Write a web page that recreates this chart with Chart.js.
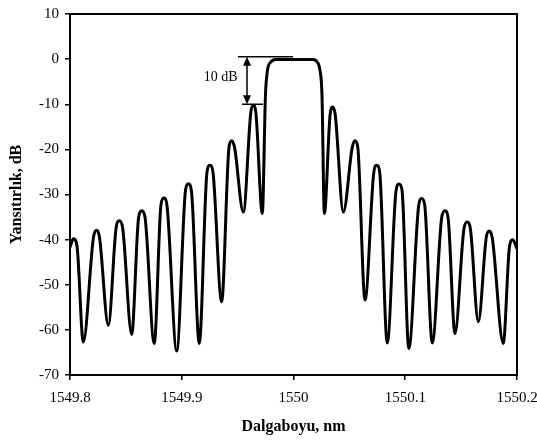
<!DOCTYPE html>
<html>
<head>
<meta charset="utf-8">
<script src="https://cdn.jsdelivr.net/npm/chart.js@4.4.1/dist/chart.umd.min.js"></script>
<style>
  body { margin: 0; background: #fff; }
  canvas { display: block; }
</style>
</head>
<body>
<canvas id="spectrumChart" width="537" height="441"></canvas>
<script>
// Reflection spectrum (wavelength in nm, reflectivity in dB)
const wavelengths = [
    1549.8000, 1549.8030, 1549.8063, 1549.8119, 1549.8210, 1549.8239, 1549.8264, 1549.8343,
    1549.8412, 1549.8441, 1549.8470, 1549.8552, 1549.8613, 1549.8642, 1549.8671, 1549.8754,
    1549.8814, 1549.8841, 1549.8868, 1549.8955, 1549.9034, 1549.9059, 1549.9087, 1549.9157,
    1549.9226, 1549.9253, 1549.9280, 1549.9357, 1549.9423, 1549.9447, 1549.9472, 1549.9551,
    1549.9618, 1549.9640, 1549.9663, 1549.9721, 1549.9749, 1549.9767, 1549.9799, 1549.9843,
    1550.0174, 1550.0210, 1550.0237, 1550.0255, 1550.0276, 1550.0328, 1550.0351, 1550.0373,
    1550.0446, 1550.0526, 1550.0550, 1550.0575, 1550.0640, 1550.0718, 1550.0744, 1550.0771,
    1550.0839, 1550.0917, 1550.0944, 1550.0971, 1550.1032, 1550.1120, 1550.1147, 1550.1174,
    1550.1242, 1550.1327, 1550.1356, 1550.1384, 1550.1445, 1550.1526, 1550.1555, 1550.1584,
    1550.1654, 1550.1725, 1550.1752, 1550.1779, 1550.1877, 1550.1933, 1550.1962, 1550.2000
];
const reflectivity = [
    -41.7, -39.8, -41.5, -62.7, -39.5, -37.9, -39.5, -59.0,
    -37.5, -35.8, -37.2, -61.0, -35.3, -33.6, -35.0, -63.0,
    -32.3, -30.8, -32.5, -64.7, -29.0, -27.6, -29.3, -63.0,
    -25.0, -23.5, -25.2, -53.8, -19.5, -18.1, -19.5, -33.9,
    -11.8, -10.2, -11.8, -34.2, -8.0, -2.5, -0.6, -0.1,
    -0.1, -0.6, -2.5, -8.0, -34.2, -12.2, -10.6, -12.2,
    -33.9, -19.5, -18.1, -19.5, -53.4, -25.2, -23.5, -25.0,
    -62.9, -29.3, -27.7, -29.0, -64.1, -32.5, -30.9, -32.3,
    -62.9, -35.0, -33.6, -35.3, -60.8, -37.5, -36.1, -37.8,
    -58.2, -39.5, -38.1, -39.7, -63.0, -41.5, -40.0, -42.0
];

// Axis ticks
const xTicks = [1549.8, 1549.9, 1550.0, 1550.1, 1550.2];
const xTickLabels = ['1549.8', '1549.9', '1550', '1550.1', '1550.2'];
const yTicks = [-70, -60, -50, -40, -30, -20, -10, 0, 10];
const yTickLabels = ['-70', '-60', '-50', '-40', '-30', '-20', '-10', '0', '10'];

// "10 dB" marker (data units)
const markTop = { from: 1549.9503, to: 1549.9996, y: 0.5 };
const markBottom = { from: 1549.9539, to: 1549.9727, y: -10 };
const markArrowX = 1549.9584;
const markLabel = { text: '10 dB', x: 1549.9500, y: -4 };

const points = wavelengths.map((w, i) => ({ x: w, y: reflectivity[i] }));

const serif = "'Liberation Serif', 'Times New Roman', serif";

// 1. Box around the plot area
const framePlugin = {
    id: 'frame',
    afterDraw(chart) {
        const { ctx, chartArea: a } = chart;
        ctx.save();
        ctx.strokeStyle = '#000';
        ctx.lineWidth = 2;
        ctx.strokeRect(a.left, a.top, a.right - a.left, a.bottom - a.top);
        ctx.restore();
    }
};

// 2. The 10 dB double arrow with its two guide lines
const markerPlugin = {
    id: 'marker',
    afterDatasetsDraw(chart) {
        const { ctx, scales: { x, y } } = chart;
        ctx.save();
        ctx.strokeStyle = '#000';
        ctx.fillStyle = '#000';
        ctx.lineWidth = 1.5;

        [markTop, markBottom].forEach(m => {
            ctx.beginPath();
            ctx.moveTo(x.getPixelForValue(m.from), y.getPixelForValue(m.y));
            ctx.lineTo(x.getPixelForValue(m.to), y.getPixelForValue(m.y));
            ctx.stroke();
        });

        const ax = x.getPixelForValue(markArrowX);
        const y1 = y.getPixelForValue(markTop.y);
        const y2 = y.getPixelForValue(markBottom.y);
        ctx.beginPath();
        ctx.moveTo(ax, y1 + 6);
        ctx.lineTo(ax, y2 - 6);
        ctx.stroke();

        // arrow heads
        ctx.beginPath();
        ctx.moveTo(ax, y1);
        ctx.lineTo(ax - 4, y1 + 9);
        ctx.lineTo(ax + 4, y1 + 9);
        ctx.closePath();
        ctx.fill();
        ctx.beginPath();
        ctx.moveTo(ax, y2);
        ctx.lineTo(ax - 4, y2 - 9);
        ctx.lineTo(ax + 4, y2 - 9);
        ctx.closePath();
        ctx.fill();

        ctx.font = '14px ' + serif;
        ctx.textAlign = 'right';
        ctx.textBaseline = 'middle';
        ctx.fillText(markLabel.text, x.getPixelForValue(markLabel.x), y.getPixelForValue(markLabel.y));
        ctx.restore();
    }
};

const tickFont = { family: serif, size: 15 };
const titleFont = { family: serif, size: 16, weight: 'bold' };

new Chart(document.getElementById('spectrumChart'), {
    type: 'line',
    data: {
        datasets: [{
            data: points,
            borderColor: '#000',
            borderWidth: 3,
            pointRadius: 0,
            fill: false,
            cubicInterpolationMode: 'monotone'
        }]
    },
    options: {
        responsive: false,
        animation: false,
        layout: { padding: { top: 14, right: 20, left: 0, bottom: 0 } },
        plugins: { legend: { display: false }, tooltip: { enabled: false } },
        scales: {
            x: {
                type: 'linear',
                min: 1549.8,
                max: 1550.2,
                afterBuildTicks: s => { s.ticks = xTicks.map(v => ({ value: v })); },
                afterFit: s => { s.height = 66; s.paddingLeft = 0; s.paddingRight = 0; },
                ticks: {
                    callback: (v, i) => xTickLabels[i],
                    font: tickFont,
                    color: '#000',
                    padding: 9,
                    maxRotation: 0,
                    autoSkip: false
                },
                grid: { drawOnChartArea: false, tickLength: 5, color: '#000', lineWidth: 1.5 },
                border: { color: '#000', width: 2 },
                title: { display: true, text: 'Dalgaboyu, nm', font: titleFont, color: '#000', padding: { top: 0, bottom: 5 } }
            },
            y: {
                min: -70,
                max: 10,
                afterBuildTicks: s => { s.ticks = yTicks.map(v => ({ value: v })); },
                afterFit: s => { s.width = 70; s.paddingTop = 0; s.paddingBottom = 0; },
                ticks: {
                    callback: (v, i) => yTickLabels[i],
                    font: tickFont,
                    color: '#000',
                    padding: 6,
                    autoSkip: false
                },
                grid: { drawOnChartArea: false, tickLength: 5, color: '#000', lineWidth: 1.5 },
                border: { color: '#000', width: 2 },
                title: { display: true, text: 'Yansıtırlık, dB', font: titleFont, color: '#000', padding: { top: 7, bottom: 0 } }
            }
        }
    },
    plugins: [framePlugin, markerPlugin]
});
</script>
</body>
</html>
